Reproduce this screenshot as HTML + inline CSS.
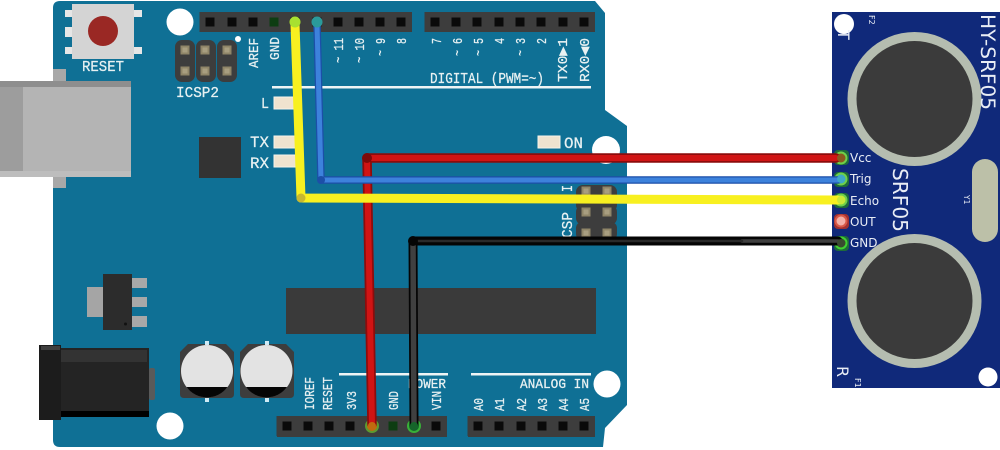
<!DOCTYPE html>
<html><head><meta charset="utf-8"><style>
html,body{margin:0;padding:0;background:#fff;width:1000px;height:450px;overflow:hidden}
svg{display:block;filter:blur(.35px)}
.m{font-family:"Liberation Mono",monospace;fill:#e8f1f2;font-weight:400;stroke:#e8f1f2;stroke-width:.25}
.s{font-family:"DejaVu Sans",sans-serif;fill:#e9edf5}
</style></head><body>
<svg width="1000" height="450" viewBox="0 0 1000 450" xmlns="http://www.w3.org/2000/svg">
<defs>
<g id="p"><rect x="-10.5" y="-10" width="21" height="20" fill="#3d3d3d"/><rect x="-4.5" y="-4.5" width="9" height="9" fill="#0a0a0a"/></g>
<g id="g"><rect x="-10.5" y="-10" width="21" height="20" fill="#3d3d3d"/><rect x="-4.5" y="-4.5" width="9" height="9" fill="#0d3d12"/></g>
<g id="pad"><rect x="-4.5" y="-4.5" width="9" height="9" fill="#8f8568"/><rect x="-2.500" y="-2.500" width="5" height="5" fill="#a89e80"/></g>
<g id="led"><rect x="0" y="0" width="22" height="12" fill="#efe3cf"/><rect x="0" y="0" width="22" height="12" fill="none" stroke="#f7f3ea" stroke-width="1"/></g>
</defs>

<!-- board -->
<path d="M60 1H595L605 13V110L627 126V405L605 428L603 447H60Q53 447 53 440V8Q53 1 60 1Z" fill="#0f7095"/>
<circle cx="180" cy="22" r="13.5" fill="#fff"/>
<circle cx="170" cy="426" r="13.5" fill="#fff"/>
<circle cx="606" cy="150" r="14" fill="#fff"/>
<circle cx="607" cy="384" r="13.5" fill="#fff"/>

<!-- reset -->
<rect x="65" y="10" width="77" height="7" fill="#e6e6e6"/>
<rect x="65" y="47" width="77" height="7" fill="#e6e6e6"/>
<rect x="65" y="27" width="10" height="10" fill="#e6e6e6"/>
<rect x="72" y="4" width="62" height="55" fill="#d4d4d4"/>
<circle cx="103" cy="31" r="15" fill="#9a2824"/>
<text class="m" x="82" y="71" font-size="15" textLength="42" lengthAdjust="spacingAndGlyphs">RESET</text>

<!-- USB -->
<rect x="53" y="69" width="13" height="119" fill="#a8a8a8"/>
<rect x="0" y="81" width="131" height="96" fill="#b4b4b4"/>
<rect x="0" y="81" width="23" height="96" fill="#9d9d9d"/>
<rect x="0" y="81" width="131" height="6" fill="#8e8e8e"/>
<rect x="0" y="171" width="131" height="6" fill="#bdbdbd"/>

<!-- ICSP2 -->
<rect x="175" y="40" width="20" height="42" rx="7" fill="#3d3d3d"/>
<rect x="196" y="40" width="20" height="42" rx="7" fill="#3d3d3d"/>
<rect x="217" y="40" width="20" height="42" rx="7" fill="#3d3d3d"/>
<use href="#pad" x="185" y="50"/><use href="#pad" x="205" y="50"/><use href="#pad" x="227" y="50"/>
<use href="#pad" x="185" y="71"/><use href="#pad" x="205" y="71"/><use href="#pad" x="227" y="71"/>
<circle cx="238" cy="39" r="3" fill="#fff"/>
<text class="m" x="176" y="97" font-size="15" textLength="43" lengthAdjust="spacingAndGlyphs">ICSP2</text>

<!-- top headers -->
<rect x="200" y="12" width="212" height="20" fill="#3d3d3d"/>
<rect x="426" y="12" width="169" height="20" fill="#3d3d3d"/>
<use href="#p" x="210" y="22"/><use href="#p" x="232" y="22"/><use href="#p" x="253" y="22"/><use href="#g" x="274" y="22"/><use href="#p" x="295" y="22"/><use href="#p" x="317" y="22"/><use href="#p" x="338" y="22"/><use href="#p" x="359" y="22"/><use href="#p" x="380" y="22"/><use href="#p" x="401" y="22"/>
<use href="#p" x="435" y="22"/><use href="#p" x="456" y="22"/><use href="#p" x="477" y="22"/><use href="#p" x="499" y="22"/><use href="#p" x="520" y="22"/><use href="#p" x="541" y="22"/><use href="#p" x="563" y="22"/><use href="#p" x="584" y="22"/>

<!-- top rotated labels -->
<text class="m" font-size="14" transform="translate(258,68) rotate(-90)" textLength="30" lengthAdjust="spacingAndGlyphs">AREF</text>
<text class="m" font-size="14" transform="translate(279,60) rotate(-90)" textLength="23" lengthAdjust="spacingAndGlyphs">GND</text>
<text class="m" font-size="14" transform="translate(343,63) rotate(-90)" textLength="25" lengthAdjust="spacingAndGlyphs">~ 11</text>
<text class="m" font-size="14" transform="translate(364,63) rotate(-90)" textLength="25" lengthAdjust="spacingAndGlyphs">~ 10</text>
<text class="m" font-size="14" transform="translate(385,56) rotate(-90)" textLength="18" lengthAdjust="spacingAndGlyphs">~ 9</text>
<text class="m" font-size="14" transform="translate(406,44) rotate(-90)" textLength="6" lengthAdjust="spacingAndGlyphs">8</text>
<text class="m" font-size="14" transform="translate(441,44) rotate(-90)" textLength="6" lengthAdjust="spacingAndGlyphs">7</text>
<text class="m" font-size="14" transform="translate(462,56) rotate(-90)" textLength="18" lengthAdjust="spacingAndGlyphs">~ 6</text>
<text class="m" font-size="14" transform="translate(483,56) rotate(-90)" textLength="18" lengthAdjust="spacingAndGlyphs">~ 5</text>
<text class="m" font-size="14" transform="translate(504,44) rotate(-90)" textLength="6" lengthAdjust="spacingAndGlyphs">4</text>
<text class="m" font-size="14" transform="translate(525,56) rotate(-90)" textLength="18" lengthAdjust="spacingAndGlyphs">~ 3</text>
<text class="m" font-size="14" transform="translate(546,44) rotate(-90)" textLength="6" lengthAdjust="spacingAndGlyphs">2</text>
<text class="m" font-size="14" transform="translate(567,82) rotate(-90)" textLength="44" lengthAdjust="spacingAndGlyphs">TX0▶1</text>
<text class="m" font-size="14" transform="translate(589,82) rotate(-90)" textLength="44" lengthAdjust="spacingAndGlyphs">RX0◀0</text>
<text class="m" x="430" y="83" font-size="15" textLength="114" lengthAdjust="spacingAndGlyphs">DIGITAL (PWM=~)</text>
<rect x="272" y="86" width="319" height="2.5" fill="#eef4f5"/>

<!-- LEDs & chip -->
<use href="#led" x="274" y="97"/><use href="#led" x="274" y="136"/><use href="#led" x="274" y="155"/><use href="#led" x="538" y="136"/>
<text class="m" x="261" y="108" font-size="15" textLength="8" lengthAdjust="spacingAndGlyphs">L</text>
<text class="m" x="250" y="147" font-size="16" textLength="19" lengthAdjust="spacingAndGlyphs">TX</text>
<text class="m" x="250" y="168" font-size="16" textLength="19" lengthAdjust="spacingAndGlyphs">RX</text>
<text class="m" x="564" y="148" font-size="16" textLength="19" lengthAdjust="spacingAndGlyphs">ON</text>
<rect x="199" y="137" width="42" height="41" fill="#333"/>

<!-- right ICSP -->
<rect x="576" y="185" width="41" height="27" rx="7" fill="#3d3d3d"/>
<rect x="576" y="205" width="41" height="20" rx="7" fill="#3d3d3d"/>
<rect x="576" y="222" width="41" height="18" rx="6" fill="#3d3d3d"/>
<use href="#pad" x="586" y="191"/><use href="#pad" x="607" y="191"/><use href="#pad" x="586" y="212"/><use href="#pad" x="607" y="212"/><use href="#pad" x="586" y="233"/><use href="#pad" x="607" y="233"/>
<text class="m" transform="translate(572,238) rotate(-90)" font-size="15" textLength="26" lengthAdjust="spacingAndGlyphs">CSP</text>
<text class="m" transform="translate(572,192) rotate(-90)" font-size="15" textLength="7" lengthAdjust="spacingAndGlyphs">I</text>

<!-- regulator -->
<rect x="87" y="287" width="17" height="30" fill="#a5a5a5"/>
<rect x="130" y="278" width="17" height="10" fill="#a8a8a8"/>
<rect x="130" y="297" width="17" height="10" fill="#a8a8a8"/>
<rect x="130" y="316" width="17" height="11" fill="#a8a8a8"/>
<rect x="103" y="274" width="29" height="56" fill="#2c2c2c"/>
<circle cx="125.500" cy="324" r="1.500" fill="#111"/>

<!-- barrel jack -->
<rect x="149" y="368" width="6" height="32" rx="2" fill="#5a5a5a"/>
<rect x="60" y="348" width="89" height="69" fill="#242424"/>
<rect x="60" y="350" width="87" height="12" fill="#333"/>
<rect x="60" y="411" width="89" height="6" fill="#000"/>
<rect x="39" y="345" width="22" height="75" fill="#1c1c1c"/>
<rect x="41" y="346" width="19" height="4" fill="#3e3e3e"/>

<!-- capacitors -->
<path d="M188 344H226L234 352V394Q234 398 230 398H184Q180 398 180 394V352Z" fill="#3d3d3d"/>
<path d="M248 344H286L294 352V394Q294 398 290 398H244Q240 398 240 394V352Z" fill="#3d3d3d"/>
<rect x="205" y="341" width="4" height="4" fill="#cfeaf5"/><rect x="205" y="398" width="4" height="4" fill="#cfeaf5"/>
<rect x="265" y="341" width="4" height="4" fill="#cfeaf5"/><rect x="265" y="398" width="4" height="4" fill="#cfeaf5"/>
<circle cx="207" cy="371" r="26" fill="#e3e3e3"/><circle cx="266.500" cy="371" r="26" fill="#e3e3e3"/>
<path d="M186.500 387A25.500 25.500 0 0 0 227.500 387Z" fill="#050505"/>
<path d="M246 387A25.500 25.500 0 0 0 287 387Z" fill="#050505"/>

<!-- IC -->
<rect x="286" y="288" width="310" height="46" fill="#3a3a3a"/>

<!-- bottom headers -->
<rect x="277" y="416" width="170" height="21" fill="#3d3d3d"/>
<rect x="468" y="416" width="127" height="21" fill="#3d3d3d"/>
<use href="#p" x="287" y="426"/><use href="#p" x="308" y="426"/><use href="#p" x="329" y="426"/><use href="#p" x="350" y="426"/><use href="#p" x="372" y="426"/><use href="#g" x="393" y="426"/><use href="#p" x="414" y="426"/><use href="#p" x="436" y="426"/>
<use href="#p" x="478" y="426"/><use href="#p" x="499" y="426"/><use href="#p" x="521" y="426"/><use href="#p" x="542" y="426"/><use href="#p" x="563" y="426"/><use href="#p" x="584" y="426"/>

<!-- bottom labels -->
<rect x="339" y="373" width="109" height="2.5" fill="#eef4f5"/>
<rect x="471" y="373" width="120" height="2.5" fill="#eef4f5"/>
<text class="m" x="408" y="388" font-size="14" textLength="38" lengthAdjust="spacingAndGlyphs">POWER</text>
<text class="m" x="520" y="388" font-size="14" textLength="69" lengthAdjust="spacingAndGlyphs">ANALOG IN</text>
<text class="m" font-size="14" transform="translate(314,410) rotate(-90)" textLength="33" lengthAdjust="spacingAndGlyphs">IOREF</text>
<text class="m" font-size="14" transform="translate(332,410) rotate(-90)" textLength="33" lengthAdjust="spacingAndGlyphs">RESET</text>
<text class="m" font-size="14" transform="translate(356,410) rotate(-90)" textLength="19" lengthAdjust="spacingAndGlyphs">3V3</text>
<text class="m" font-size="14" transform="translate(398,410) rotate(-90)" textLength="19" lengthAdjust="spacingAndGlyphs">GND</text>
<text class="m" font-size="14" transform="translate(441,410) rotate(-90)" textLength="19" lengthAdjust="spacingAndGlyphs">VIN</text>
<text class="m" font-size="14" transform="translate(483,411) rotate(-90)" textLength="13" lengthAdjust="spacingAndGlyphs">A0</text>
<text class="m" font-size="14" transform="translate(504,411) rotate(-90)" textLength="13" lengthAdjust="spacingAndGlyphs">A1</text>
<text class="m" font-size="14" transform="translate(526,411) rotate(-90)" textLength="13" lengthAdjust="spacingAndGlyphs">A2</text>
<text class="m" font-size="14" transform="translate(547,411) rotate(-90)" textLength="13" lengthAdjust="spacingAndGlyphs">A3</text>
<text class="m" font-size="14" transform="translate(568,411) rotate(-90)" textLength="13" lengthAdjust="spacingAndGlyphs">A4</text>
<text class="m" font-size="14" transform="translate(589,411) rotate(-90)" textLength="13" lengthAdjust="spacingAndGlyphs">A5</text>

<!-- sensor -->
<rect x="832" y="12" width="168" height="376" fill="#10297a"/>
<circle cx="844" cy="24" r="10" fill="#fff"/>
<circle cx="988" cy="377" r="9.500" fill="#fff"/>
<circle cx="914.500" cy="99" r="67" fill="#b5bdb0"/><circle cx="914.500" cy="99" r="58" fill="#3b3b3b"/>
<circle cx="914.500" cy="301" r="67" fill="#b5bdb0"/><circle cx="914.500" cy="301" r="58" fill="#3b3b3b"/>
<rect x="972" y="159" width="26" height="83" rx="13" fill="#bcc0a8"/>
<text class="s" transform="translate(981,14) rotate(90)" font-size="19.500" textLength="96" lengthAdjust="spacingAndGlyphs">HY-SRF05</text>
<text class="s" transform="translate(893,168) rotate(90)" font-size="20" textLength="64" lengthAdjust="spacingAndGlyphs">SRF05</text>
<text class="s" transform="translate(838,30) rotate(90)" font-size="16">T</text>
<text class="s" transform="translate(837,366) rotate(90)" font-size="16">R</text>
<text class="s" transform="translate(869,15) rotate(90)" font-size="8">F2</text>
<text class="s" transform="translate(855,378) rotate(90)" font-size="8">F1</text>
<text class="s" transform="translate(964,195) rotate(90)" font-size="7.500">Y1</text>
<text class="s" x="850" y="162" font-size="12">Vcc</text>
<text class="s" x="850" y="183" font-size="12">Trig</text>
<text class="s" x="850" y="205" font-size="12">Echo</text>
<text class="s" x="850" y="226" font-size="12">OUT</text>
<text class="s" x="850" y="247" font-size="12">GND</text>

<!-- pin rings -->
<rect x="834" y="150" width="15" height="15" rx="4" fill="#1e6b3a"/><circle cx="841" cy="158" r="5.500" fill="#8a5a1e" stroke="#6fd04a" stroke-width="2"/>
<rect x="834" y="172" width="15" height="15" rx="4" fill="#1e6b3a"/><circle cx="841" cy="179" r="5.500" fill="#3fa8c8" stroke="#6fd04a" stroke-width="2"/>
<rect x="834" y="193" width="15" height="15" rx="4" fill="#1e6b3a"/><circle cx="841" cy="200" r="5.500" fill="#c8e838" stroke="#6fd04a" stroke-width="2"/>
<rect x="834" y="214" width="15" height="15" rx="4" fill="#a03030"/><circle cx="841" cy="221" r="5.500" fill="#f2b0a8" stroke="#d85848" stroke-width="2"/>
<rect x="834" y="236" width="15" height="15" rx="4" fill="#1e6b3a"/><circle cx="841" cy="243" r="5.500" fill="#3a4a30" stroke="#40d030" stroke-width="2"/>

<!-- pin rings on board -->
<circle cx="372" cy="426" r="6" fill="#c06a10" stroke="#5c9a30" stroke-width="2"/>
<circle cx="414" cy="426" r="6" fill="#15652a" stroke="#38b038" stroke-width="2"/>

<!-- wires -->
<g fill="none" stroke-linejoin="round" stroke-linecap="round">
<path d="M372 424L367 158H836" stroke="#8c0c0c" stroke-width="9.500"/>
<path d="M372 424L367 158H836" stroke="#d01414" stroke-width="6"/>
<path d="M317 24L321 180H838" stroke="#1c4fa8" stroke-width="7.500"/>
<path d="M317 24L321 180H838" stroke="#3d82dc" stroke-width="5"/>
<path d="M295 24L301 198L838 200" stroke="#f8f020" stroke-width="9"/>
<path d="M414 424L413 241H838" stroke="#050505" stroke-width="9"/>
<path d="M414 424L413 241" stroke="#404040" stroke-width="5.500"/>
<path d="M742 241H838" stroke="#404040" stroke-width="3.500"/>
<path d="M413 241H742" stroke="#2a2a2a" stroke-width="2.500"/>
</g>
<circle cx="367" cy="158" r="5" fill="#7e0a0a"/>
<circle cx="321" cy="180" r="4" fill="#1c4fa8"/>
<circle cx="301" cy="198" r="4.500" fill="#c8b830"/>
<circle cx="413" cy="241" r="5" fill="#050505"/>
<circle cx="295" cy="22" r="5.500" fill="#a8e030"/>
<circle cx="317" cy="22" r="5.500" fill="#2a9a9a"/>
<circle cx="372" cy="426" r="4" fill="#c06a10"/>
<circle cx="414" cy="426" r="4" fill="#15652a"/>
<circle cx="841" cy="158" r="4" fill="#8a5a1e"/>
<circle cx="841" cy="179" r="4" fill="#3fa8c8"/>
<circle cx="841" cy="200" r="4" fill="#c8e838"/>
<circle cx="841" cy="243" r="4" fill="#3a4a30"/>
</svg>
</body></html>
